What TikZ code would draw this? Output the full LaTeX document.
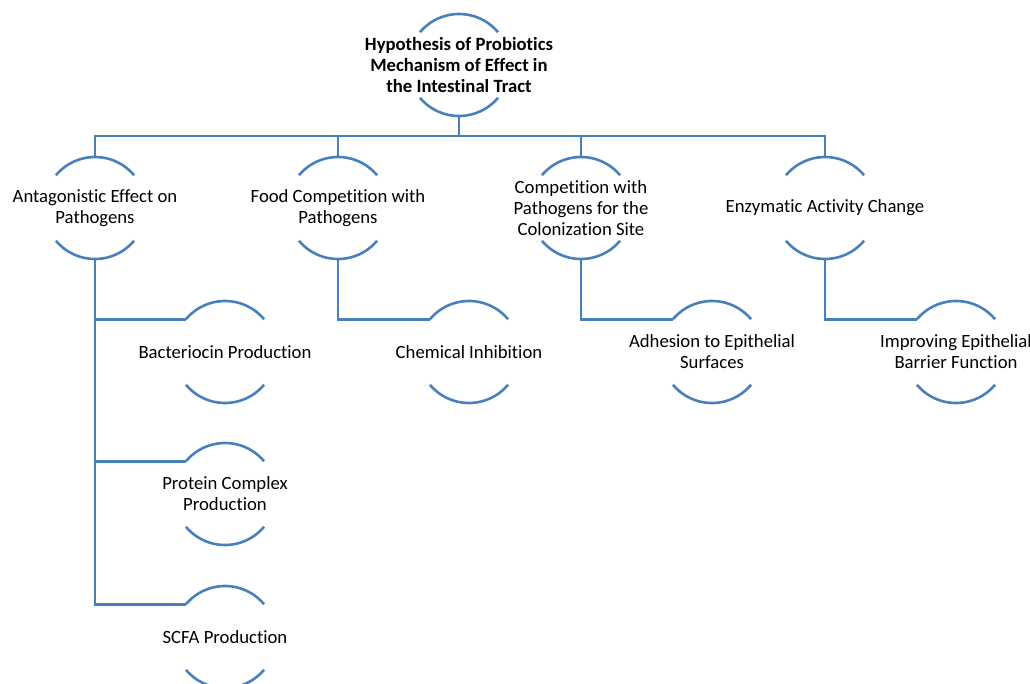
\documentclass[tikz,border=0pt]{standalone}
\usepackage{fontspec}
\setmainfont{Carlito}[Ligatures=NoCommon]
\definecolor{linec}{RGB}{72,128,186}
\begin{document}
\begin{tikzpicture}[x=1pt,y=1pt,
  cnode/.style={inner sep=0pt,align=center,
    font=\fontsize{18.7}{21}\selectfont},
  conn/.style={draw=linec,line width=2.6pt},
  arcline/.style={draw=linec,line width=2.6pt}]
\useasboundingbox (0,0) rectangle (1030,-684);
\node[cnode,font=\fontsize{18.7}{21}\selectfont\bfseries] (top) at (459,-65) {Hypothesis of Probiotics\\Mechanism of Effect in\\the Intestinal Tract};
\node[cnode] (a1) at (95,-208) {Antagonistic Effect on\\Pathogens};
\node[cnode] (b1) at (338,-208) {Food Competition with\\Pathogens};
\node[cnode] (c1) at (581,-208) {Competition with\\Pathogens for the\\Colonization Site};
\node[cnode] (d1) at (825,-208) {Enzymatic Activity Change};
\node[cnode] (a2) at (225,-352) {Bacteriocin Production};
\node[cnode] (a3) at (225,-494) {Protein Complex\\Production};
\node[cnode] (a4) at (225,-637) {SCFA Production};
\node[cnode] (b2) at (469,-352) {Chemical Inhibition};
\node[cnode] (c2) at (712,-352) {Adhesion to Epithelial\\Surfaces};
\node[cnode] (d2) at (956,-352) {Improving Epithelial\\Barrier Function};
\foreach \n in {top,a1,b1,c1,d1,a2,a3,a4,b2,c2,d2}{
  \draw[arcline] ([shift={(40:51)}]\n.center) arc[start angle=40,end angle=140,radius=51];
  \draw[arcline] ([shift={(220:51)}]\n.center) arc[start angle=220,end angle=320,radius=51];
}
\coordinate (bus) at (459,-136);
\draw[conn] ([yshift=-51]top.center) -- (bus);
\draw[conn] ([yshift=51]a1.center) -- (a1.center |- bus) -- (d1.center |- bus) -- ([yshift=51]d1.center);
\draw[conn] ([yshift=51]b1.center) -- (b1.center |- bus);
\draw[conn] ([yshift=51]c1.center) -- (c1.center |- bus);
\draw[conn] ([yshift=-51]a1.center) |- ([shift={(140:51)}]a2.center);
\draw[conn] ([yshift=-51]a1.center) |- ([shift={(140:51)}]a3.center);
\draw[conn] ([yshift=-51]a1.center) |- ([shift={(140:51)}]a4.center);
\draw[conn] ([yshift=-51]b1.center) |- ([shift={(140:51)}]b2.center);
\draw[conn] ([yshift=-51]c1.center) |- ([shift={(140:51)}]c2.center);
\draw[conn] ([yshift=-51]d1.center) |- ([shift={(140:51)}]d2.center);
\end{tikzpicture}
\end{document}
